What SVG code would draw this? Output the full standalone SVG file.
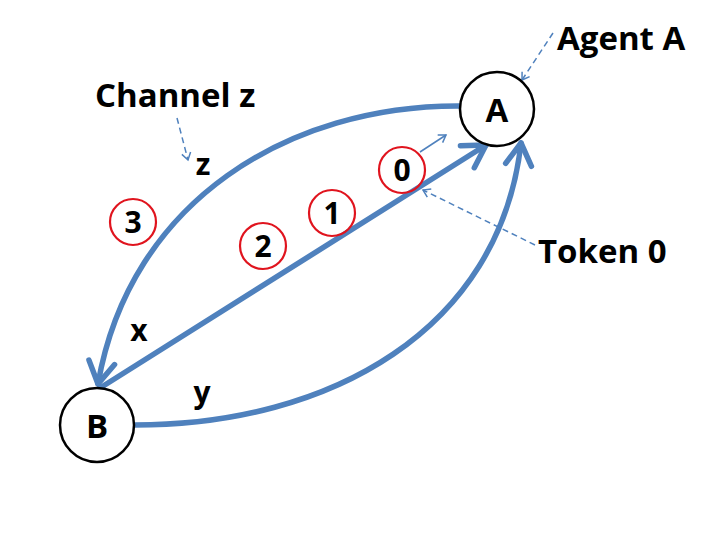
<svg xmlns="http://www.w3.org/2000/svg" width="720" height="540" viewBox="0 0 720 540">
<style>
.lbl{font-family:"Open Sans","Liberation Sans",sans-serif;font-weight:bold;fill:#000}
.big{font-size:33px}
.mid{font-size:30px}
.node{fill:#fff;stroke:#000;stroke-width:2.5}
.tok{fill:none;stroke:#E0141E;stroke-width:2.2}
.ch{fill:none;stroke:#4F81BD;stroke-width:5.5;stroke-linecap:round}
.dash{fill:none;stroke:#4F81BD;stroke-width:1.5;stroke-dasharray:6 4}
.thin{fill:none;stroke:#4F81BD;stroke-width:1.5}
</style>
<defs>
<marker id="big" markerUnits="userSpaceOnUse" viewBox="-28 -17 32 34" markerWidth="32" markerHeight="34" refX="0" refY="0" orient="auto">
<path d="M-22,-13 L0,0 L-22,13" fill="none" stroke="#4F81BD" stroke-width="5.5" stroke-linecap="round" stroke-linejoin="round"/>
</marker>
<marker id="small" markerUnits="userSpaceOnUse" viewBox="-10 -6 12 12" markerWidth="12" markerHeight="12" refX="0" refY="0" orient="auto">
<path d="M-7,-4.5 L0,0 L-7,4.5" fill="none" stroke="#4F81BD" stroke-width="1.5"/>
</marker>
</defs>
<g id="connectors">
<path id="ch-z" class="ch" d="M460,106 C290,105 130,200 98,384" marker-end="url(#big)"/>
<path id="ch-x" class="ch" d="M100,388 L486,145" marker-end="url(#big)"/>
<path id="ch-y" class="ch" d="M135,425 C330,425 500,330 521,143" marker-end="url(#big)"/>
<path id="ann-agent" class="dash" d="M553,33 L522,80" marker-end="url(#small)"/>
<path id="ann-channel" class="dash" d="M177,118 L188,160" marker-end="url(#small)"/>
<path id="ann-token" class="dash" d="M535,245 L423,190" marker-end="url(#small)"/>
<path id="ann-token-move" class="thin" d="M420,152 L446,135" marker-end="url(#small)"/>
</g>
<g id="nodeA"><circle class="node" cx="497" cy="109" r="37"/><text class="lbl big" x="497" y="122" text-anchor="middle">A</text></g>
<g id="nodeB"><circle class="node" cx="97" cy="425" r="37"/><text class="lbl big" x="97" y="438" text-anchor="middle">B</text></g>
<g id="token0"><circle class="tok" cx="402" cy="170" r="23"/><text class="lbl mid" x="402" y="181" text-anchor="middle">0</text></g>
<g id="token1"><circle class="tok" cx="332" cy="213" r="23"/><text class="lbl mid" x="332" y="224" text-anchor="middle">1</text></g>
<g id="token2"><circle class="tok" cx="263" cy="246" r="23"/><text class="lbl mid" x="263" y="257" text-anchor="middle">2</text></g>
<g id="token3"><circle class="tok" cx="133" cy="222" r="23"/><text class="lbl mid" x="133" y="233" text-anchor="middle">3</text></g>
<g id="labels">
<text class="lbl big" x="557" y="50">Agent A</text>
<text class="lbl big" x="95" y="107">Channel z</text>
<text class="lbl big" x="538" y="263">Token 0</text>
<text class="lbl mid" x="203" y="175" text-anchor="middle">z</text>
<text class="lbl mid" x="139" y="341" text-anchor="middle">x</text>
<text class="lbl mid" x="202" y="403" text-anchor="middle">y</text>
</g>
</svg>
